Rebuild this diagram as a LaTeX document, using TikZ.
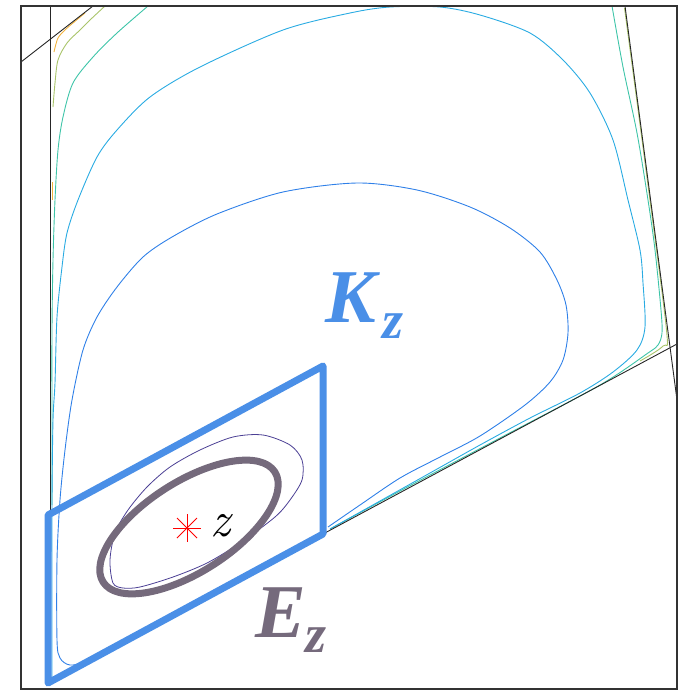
\documentclass[tikz,border=0pt]{standalone}
\usepackage{fontspec}
\newfontfamily\libser{Liberation Serif}
\newfontfamily\lmfont{Latin Modern Roman}
\definecolor{kblue}{HTML}{4A8FE7}
\definecolor{egray}{HTML}{756A7C}
\definecolor{eggpurple}{HTML}{4B3F94}
\definecolor{medblue}{HTML}{2F80E8}
\definecolor{lightblue}{HTML}{29ABE2}
\definecolor{tealc}{HTML}{3DC4A8}
\definecolor{ygreen}{HTML}{A9C46A}
\definecolor{orangec}{HTML}{F2B33D}
\begin{document}
\begin{tikzpicture}[x=1pt,y=-1pt,
  lvl/.style={line width=0.9pt, line join=round},
  bdry/.style={draw=black!85, line width=0.9pt},
  labelK/.style={anchor=base west, inner sep=0pt, text=kblue},
  labelE/.style={anchor=base west, inner sep=0pt, text=egray}]
\useasboundingbox (0,0) rectangle (683,691);

% level curves
\draw[lvl, orangec] plot[smooth] coordinates {(85,13) (73,23) (66,29) (58,38) (54,52)};
\draw[lvl, orangec] (52,182) -- (52,200);
\draw[lvl, ygreen] plot[smooth] coordinates {(105,6) (90,20) (80,30) (67,43) (58,60) (55,83) (53,107)};
\draw[lvl, ygreen] plot[smooth] coordinates {(624.5,8) (646,170) (666.5,330) (663,346) (640,361)};
\draw[lvl, tealc] plot[smooth] coordinates {(148,6) (117,33) (93,57) (73,83) (63,117) (58,150) (55,200) (53,260) (52,330) (52,430) (52,505)};
\draw[lvl, tealc] plot[smooth] coordinates {(612,6) (623,67) (637,133) (648,200) (655,250) (661,310) (662,333) (658,345) (648,353) (600,385) (500,438) (400,491) (330,529)};
\draw[lvl, lightblue] plot[smooth] coordinates {(52,680) (52,600) (52,500) (53,420) (55,383) (57,317) (62,267) (67,233) (78,200) (97,157) (117,130) (150,97) (200,67) (283,30) (350,13) (390,7) (440,7) (480,15) (530,33) (563,60) (590,93) (613,140) (628,200) (640,250) (643,283) (645,327) (637,350) (613,372) (580,393) (530,418) (480,445) (430,473) (380,501) (330,529)};
\draw[lvl, medblue] plot[smooth] coordinates {(323,534) (250,574) (180,612) (120,645) (88,661) (70,665) (60,658) (57,640) (57,560) (60,500) (65,450) (72,400) (83,350) (97,317) (117,287) (143,257) (172,237) (217,214) (283,192) (357,183) (417,190) (470,207) (510,228) (540,252) (557,280) (566,305) (568,333) (563,360) (550,382) (525,405) (480,436) (440,457) (400,478) (360,505) (328,527)};

% boundary lines
\coordinate (vt) at (50,6);
\coordinate (vb) at (50,515);
\coordinate (dl) at (21,62);
\coordinate (dr) at (93,6);
\coordinate (st) at (625,6);
\coordinate (sb) at (677,400);
\coordinate (ll) at (323,534);
\coordinate (lr) at (677,344);
\draw[bdry] (vt) -- (vb);
\draw[bdry] (dl) -- (dr);
\draw[bdry] (st) -- (sb);
\draw[bdry] (ll) -- (lr);

% frame
\draw[black!80, line width=1.1pt] (21,6) rectangle (677,689);

% parallelogram K_z
\coordinate (pa) at (48,515);
\coordinate (pb) at (323,366);
\coordinate (pc) at (323,534);
\coordinate (pd) at (48,683);
\draw[kblue, line width=7pt, line join=round] (pa) -- (pb) -- (pc) -- (pd) -- cycle;

% thin egg curve
\draw[eggpurple, line width=0.8pt] plot[smooth cycle] coordinates {(113,583) (110,560) (115,533) (128,510) (147,487) (170,467) (200,450) (233,437) (263,435) (290,445) (302,460) (302,480) (290,500) (275,517) (240,543) (207,563) (173,577) (140,587) (123,588)};

% ellipse E_z
\coordinate (ec) at (189,527);
\draw[egray, line width=7pt, rotate around={32.7:(ec)}] (ec) ellipse [x radius=102pt, y radius=45pt];

% star marker
\coordinate (zc) at (187,528);
\draw[red, line width=0.9pt] (zc) ++(-14,0) -- ++(28,0);
\draw[red, line width=0.9pt] (zc) ++(0,-14) -- ++(0,28);
\draw[red, line width=0.9pt] (zc) ++(-10,-10) -- ++(20,20);
\draw[red, line width=0.9pt] (zc) ++(-10,10) -- ++(20,-20);

% labels
\node[anchor=base west, inner sep=0pt, font=\lmfont\fontsize{50}{54}\selectfont\itshape] (zl) at (210,536) {z};
\node[labelK, font=\libser\fontsize{76}{80}\selectfont\bfseries\itshape] (K) at (325,322) {K};
\node[labelK, font=\libser\fontsize{54}{58}\selectfont\bfseries\itshape] (Kz) at (382,338) {z};
\node[labelE, font=\libser\fontsize{76}{80}\selectfont\bfseries\itshape] (E) at (255,637) {E};
\node[labelE, font=\libser\fontsize{54}{58}\selectfont\bfseries\itshape] (Ez) at (305,652) {z};
\end{tikzpicture}
\end{document}
